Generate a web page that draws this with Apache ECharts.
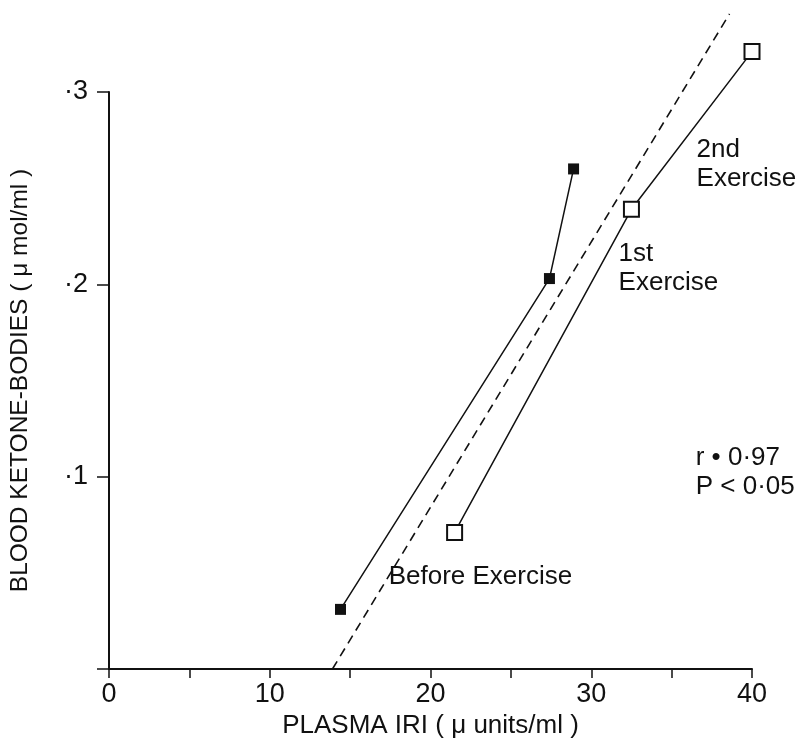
<!DOCTYPE html>
<html>
<head>
<meta charset="utf-8">
<script src="https://cdn.jsdelivr.net/npm/echarts@6/dist/echarts.min.js"></script>
<style>
  html, body { margin: 0; padding: 0; background: #fff; }
  #chart { width: 804px; height: 756px; }
</style>
</head>
<body>
<div id="chart"></div>
<script>
// Plasma IRI (µunits/ml) against blood ketone-bodies (µmol/ml)
const filledX = [14.4, 27.4, 28.9];
const filledY = [0.031, 0.203, 0.260];
const openX = [21.5, 32.5, 40.0];
const openY = [0.071, 0.239, 0.321];
// regression line end points
const fitX = [13.9, 38.6];
const fitY = [0.0, 0.3406];

const xTicks = [0, 10, 20, 30, 40];
const yTickLabels = { 0.1: '·1', 0.2: '·2', 0.3: '·3' };

// annotation texts, anchored at their left edge / vertical centre in data units
const noteText = ['2nd\nExercise', '1st\nExercise', 'r • 0·97\nP < 0·05', 'Before Exercise'];
const noteX = [36.55, 31.7, 36.5, 17.4];
const noteY = [0.2626, 0.2085, 0.1024, 0.0478];

const pairs = (xs, ys) => xs.map((x, i) => [x, ys[i]]);
const FONT = '"Liberation Sans", Arial, sans-serif';

const chart = echarts.init(document.getElementById('chart'));
chart.setOption({
  animation: false,
  backgroundColor: '#fff',
  grid: { left: 109, right: 52, top: 92, bottom: 87 },
  xAxis: {
    type: 'value', min: 0, max: 40, interval: 5,
    name: 'PLASMA IRI ( μ units/ml )',
    nameLocation: 'middle', nameGap: 38,
    nameTextStyle: { fontFamily: FONT, fontSize: 26, color: '#111' },
    axisLine: { lineStyle: { color: '#111', width: 2 } },
    axisTick: { length: 9, lineStyle: { color: '#111', width: 1.5 } },
    axisLabel: {
      fontFamily: FONT, fontSize: 27, color: '#111', margin: 12,
      formatter: v => (xTicks.indexOf(v) >= 0 ? String(v) : '')
    },
    splitLine: { show: false }
  },
  yAxis: {
    type: 'value', min: 0, max: 0.3, interval: 0.1,
    name: 'BLOOD KETONE-BODIES ( μ mol/ml )',
    nameLocation: 'middle', nameGap: 76,
    nameTextStyle: { fontFamily: FONT, fontSize: 24.5, color: '#111' },
    axisLine: { lineStyle: { color: '#111', width: 2 } },
    axisTick: { length: 12, lineStyle: { color: '#111', width: 1.5 } },
    axisLabel: {
      fontFamily: FONT, fontSize: 27, color: '#111', margin: 21,
      formatter: v => yTickLabels[Math.round(v * 10) / 10] || ''
    },
    splitLine: { show: false }
  },
  series: [
    {
      type: 'line', clip: false, symbol: 'none',
      data: pairs(fitX, fitY),
      lineStyle: { color: '#111', width: 1.6, type: [9, 6] },
      z: 1
    },
    {
      type: 'line', clip: false, symbol: 'rect', symbolSize: 11,
      data: pairs(filledX, filledY),
      lineStyle: { color: '#111', width: 1.5 },
      itemStyle: { color: '#111' },
      z: 2
    },
    {
      type: 'line', clip: false, symbol: 'rect', symbolSize: 15,
      data: pairs(openX, openY),
      lineStyle: { color: '#111', width: 1.5 },
      itemStyle: { color: '#fff', borderColor: '#111', borderWidth: 2 },
      z: 3
    }
  ]
});

// place the text notes at their data positions
chart.setOption({
  graphic: noteText.map((t, i) => {
    const p = chart.convertToPixel({ gridIndex: 0 }, [noteX[i], noteY[i]]);
    return {
      type: 'text', x: p[0], y: p[1],
      style: {
        text: t, fill: '#111', font: '26px ' + FONT,
        lineHeight: 29, verticalAlign: 'middle', align: 'left'
      }
    };
  })
});
</script>
</body>
</html>
